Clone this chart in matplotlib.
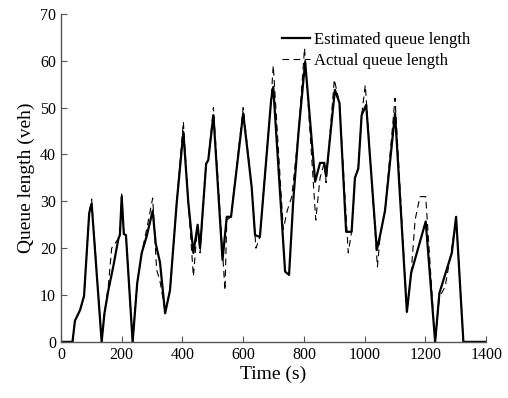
import matplotlib
matplotlib.use("Agg")
import matplotlib.pyplot as plt

# estimated queue length (time s, veh)
est_t = [0, 38, 46, 63, 76, 93, 101, 134, 143, 156, 172, 189, 194, 200, 207, 214, 236,
         251, 266, 282, 302, 312, 326, 343, 359, 381, 403, 419, 436, 450, 458, 478, 485,
         502, 532, 546, 560, 600, 628, 639, 655, 692, 699, 738, 751, 765, 782, 804, 837,
         853, 867, 873, 902, 917, 939, 957, 968, 979, 990, 1005, 1040, 1051, 1067, 1100,
         1139, 1153, 1201, 1232, 1246, 1287, 1301, 1325, 1400]
est_q = [0, 0, 4.5, 6.8, 9.8, 27.5, 29.5, 0, 6, 11, 16, 22, 22.8, 31, 23, 22.8, 0,
         12.5, 19, 22.5, 28, 21, 17, 6.1, 11, 29.6, 44.8, 30, 19, 25, 20, 38, 38.8,
         48.4, 17.5, 26.7, 26.7, 48.8, 33, 22.8, 22.4, 51.6, 54.4, 15, 14.3, 30.3, 44.6, 59.8, 34.2,
         38.2, 38.2, 35.3, 53.8, 51, 23.5, 23.5, 35, 37, 48.4, 50.6, 19.6, 22.8, 28, 48.8,
         6.4, 14.7, 25.7, 0, 10.4, 19, 26.7, 0, 0]

# actual queue length
act_t = [0, 38, 46, 63, 76, 93, 101, 134, 143, 156, 167, 189, 194, 200, 207, 214, 236,
         251, 266, 282, 302, 315, 326, 343, 359, 381, 403, 419, 436, 450, 458, 478, 485,
         502, 540, 546, 560, 600, 628, 642, 655, 692, 699, 732, 745, 760, 782, 802, 839,
         853, 867, 873, 900, 917, 946, 957, 968, 979, 990, 1002, 1042, 1051, 1067, 1100,
         1139, 1153, 1166, 1182, 1201, 1232, 1246, 1265, 1287, 1301, 1325, 1400]
act_q = [0, 0, 4.5, 6.8, 9.8, 27.5, 30.5, 0, 6, 12, 20, 22, 22.8, 32, 23, 22.8, 0,
         12.5, 19, 24, 30.7, 15.4, 13, 6.5, 11, 29.6, 47, 30, 14, 25, 19, 38, 38.8,
         50, 11, 26, 26.7, 50, 33, 20, 22.4, 52, 59, 24, 28, 31, 44.6, 62.7, 26,
         35, 38.2, 34, 56, 51, 19, 23.5, 35, 37, 48.4, 54.8, 16, 22.8, 28, 52,
         6.4, 14.7, 26, 31, 31, 0, 9.5, 11.8, 20, 26.7, 0, 0]

plt.rcParams['font.family'] = ['Liberation Serif', 'DejaVu Serif']

fig = plt.figure(figsize=(5.08, 3.98), dpi=100)
ax = fig.add_axes([0.12, 0.141, 0.837, 0.824])

ax.plot(est_t, est_q, color='black', linewidth=1.6, label='Estimated queue length')
ax.plot(act_t, act_q, color='black', linewidth=0.8, linestyle=(0, (6, 4)),
        label='Actual queue length')

ax.set_xlim(0, 1400)
ax.set_ylim(0, 70)
ax.set_xticks(range(0, 1401, 200))
ax.set_yticks(range(0, 71, 10))
ax.tick_params(direction='in', length=4, labelsize=11.5, color='#555555')
for s in ['top', 'right']:
    ax.spines[s].set_visible(False)
for s in ['left', 'bottom']:
    ax.spines[s].set_color('#555555')
    ax.spines[s].set_linewidth(1.0)

ax.set_xlabel('Time (s)', fontsize=14, labelpad=2)
ax.set_ylabel('Queue length (veh)', fontsize=14, labelpad=4)

ax.legend(loc='upper left', bbox_to_anchor=(0.52, 0.945), frameon=False,
          fontsize=12, handlelength=1.7, handletextpad=0.2, labelspacing=0.32,
          borderpad=0, borderaxespad=0)

fig.savefig('out.png', dpi=100)
